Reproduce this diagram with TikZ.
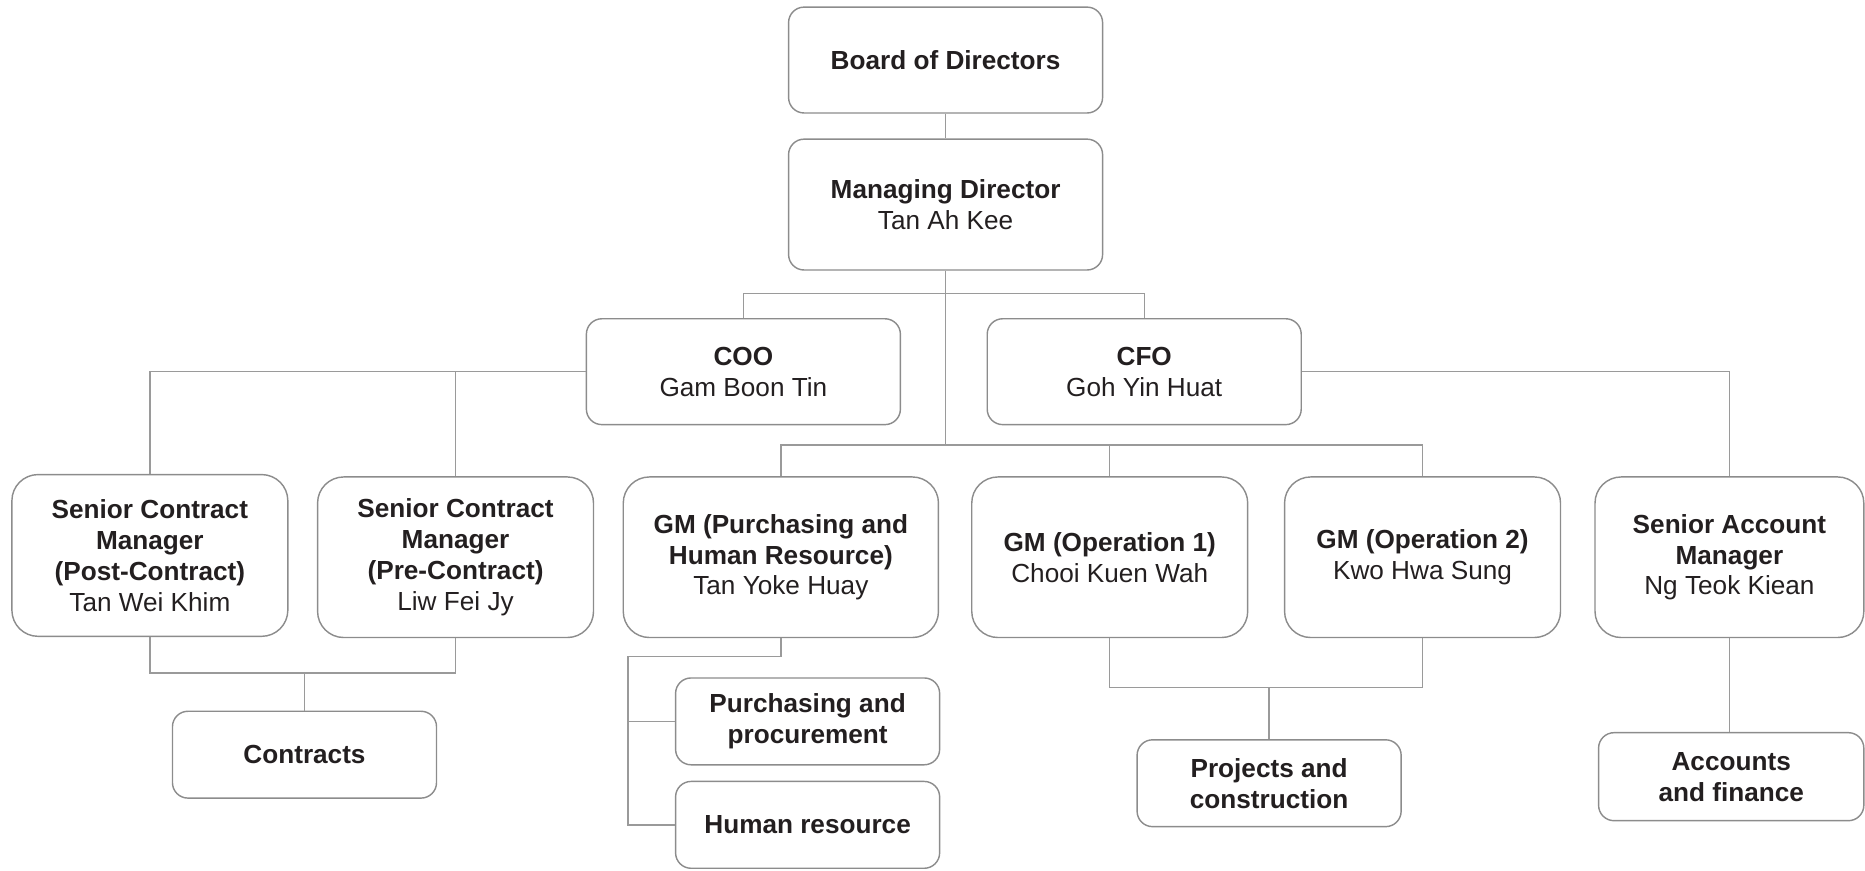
\documentclass[tikz,border=0pt]{standalone}
\usepackage{fontspec}
\setmainfont{Liberation Sans}
\usepackage{tikz}
\usetikzlibrary{positioning,calc}
\definecolor{boxgray}{HTML}{8C8C8C}
\definecolor{linegray}{HTML}{9A9A9A}
\definecolor{inkdark}{HTML}{231F20}
\tikzset{
  unit/.style={draw=boxgray, line width=0.6pt, rounded corners=6.5pt, align=center,
    text=inkdark, inner sep=0pt, font=\fontsize{11}{13}\selectfont},
  topunit/.style={unit, minimum width=132pt, minimum height=44.5pt},
  mgrunit/.style={unit, rounded corners=11pt, minimum width=116pt, minimum height=67.5pt},
  deptunit/.style={unit, minimum width=111pt, minimum height=36.5pt},
  link/.style={draw=linegray, line width=0.6pt}
}

\begin{document}
\begin{tikzpicture}[x=0.5pt, y=-0.5pt]
        \useasboundingbox (0,0) rectangle (1568,731.5);
        % top of the chart
        \node[topunit] (bod) at (795,50.5) {\textbf{Board of Directors}};
        \node[topunit, minimum height=55pt] (md) at (795,172) {\textbf{Managing Director}\\Tan Ah Kee};
        \node[topunit] (coo) at (625,312.5) {\textbf{COO}\\Gam Boon Tin};
        \node[topunit] (cfo) at (962,312.5) {\textbf{CFO}\\Goh Yin Huat};
        
        % managers
        \node[mgrunit, minimum height=68pt] (scmpost) at (126,467) {\textbf{Senior Contract}\\\textbf{Manager}\\\textbf{(Post-Contract)}\\Tan Wei Khim};
        \node[mgrunit] (scmpre) at (383,468.5) {\textbf{Senior Contract}\\\textbf{Manager}\\\textbf{(Pre-Contract)}\\Liw Fei Jy};
        \node[mgrunit, minimum width=132.5pt] (gmphr) at (656.5,468.5) {\textbf{GM (Purchasing and}\\\textbf{Human Resource)}\\Tan Yoke Huay};
        \node[mgrunit] (gmop1) at (933,468.5) {\textbf{GM (Operation 1)}\\Chooi Kuen Wah};
        \node[mgrunit] (gmop2) at (1196,468.5) {\textbf{GM (Operation 2)}\\Kwo Hwa Sung};
        \node[mgrunit, minimum width=113pt] (sam) at (1454,468.5) {\textbf{Senior Account}\\\textbf{Manager}\\Ng Teok Kiean};
        
        % departments
        \node[deptunit] (contracts) at (256,634.5) {\textbf{Contracts}};
        \node[deptunit] (purch) at (679,606.5) {\textbf{Purchasing and}\\\textbf{procurement}};
        \node[deptunit] (hr) at (679,693.5) {\textbf{Human resource}};
        \node[deptunit] (projects) at (1067,658.5) {\textbf{Projects and}\\\textbf{construction}};
        \node[deptunit, minimum width=111.5pt, minimum height=37pt] (accounts) at (1455.5,653) {\textbf{Accounts}\\\textbf{and finance}};
        
        % joints of the connectors
        \coordinate (splitA) at (795,247);
        \coordinate (splitB) at (795,374);
        \coordinate (joinC) at (256,566);
        \coordinate (joinP) at (528,552);
        \coordinate (joinO) at (1067,578);
        
        \draw[link] (bod) -- (md);
        \draw[link] (md.south) -- (splitB);
        \draw[link] (splitA) -| (coo.north);
        \draw[link] (splitA) -| (cfo.north);
        \foreach \g in {gmphr,gmop1,gmop2} \draw[link] (splitB) -| (\g.north);
        \draw[link] (coo.west) -| (scmpost.north);
        \draw[link] (coo.west) -| (scmpre.north);
        \draw[link] (cfo.east) -| (sam.north);
        \draw[link] (scmpost.south) |- (joinC) -| (scmpre.south);
        \draw[link] (joinC) -- (contracts.north);
        \draw[link] (gmphr.south) |- (joinP) |- (hr.west);
        \draw[link] (joinP) |- (purch.west);
        \draw[link] (gmop1.south) |- (joinO) -| (gmop2.south);
        \draw[link] (joinO) -- (projects.north);
        \draw[link] (sam.south) -- (sam.south |- accounts.north);
    \end{tikzpicture}
\end{document}
